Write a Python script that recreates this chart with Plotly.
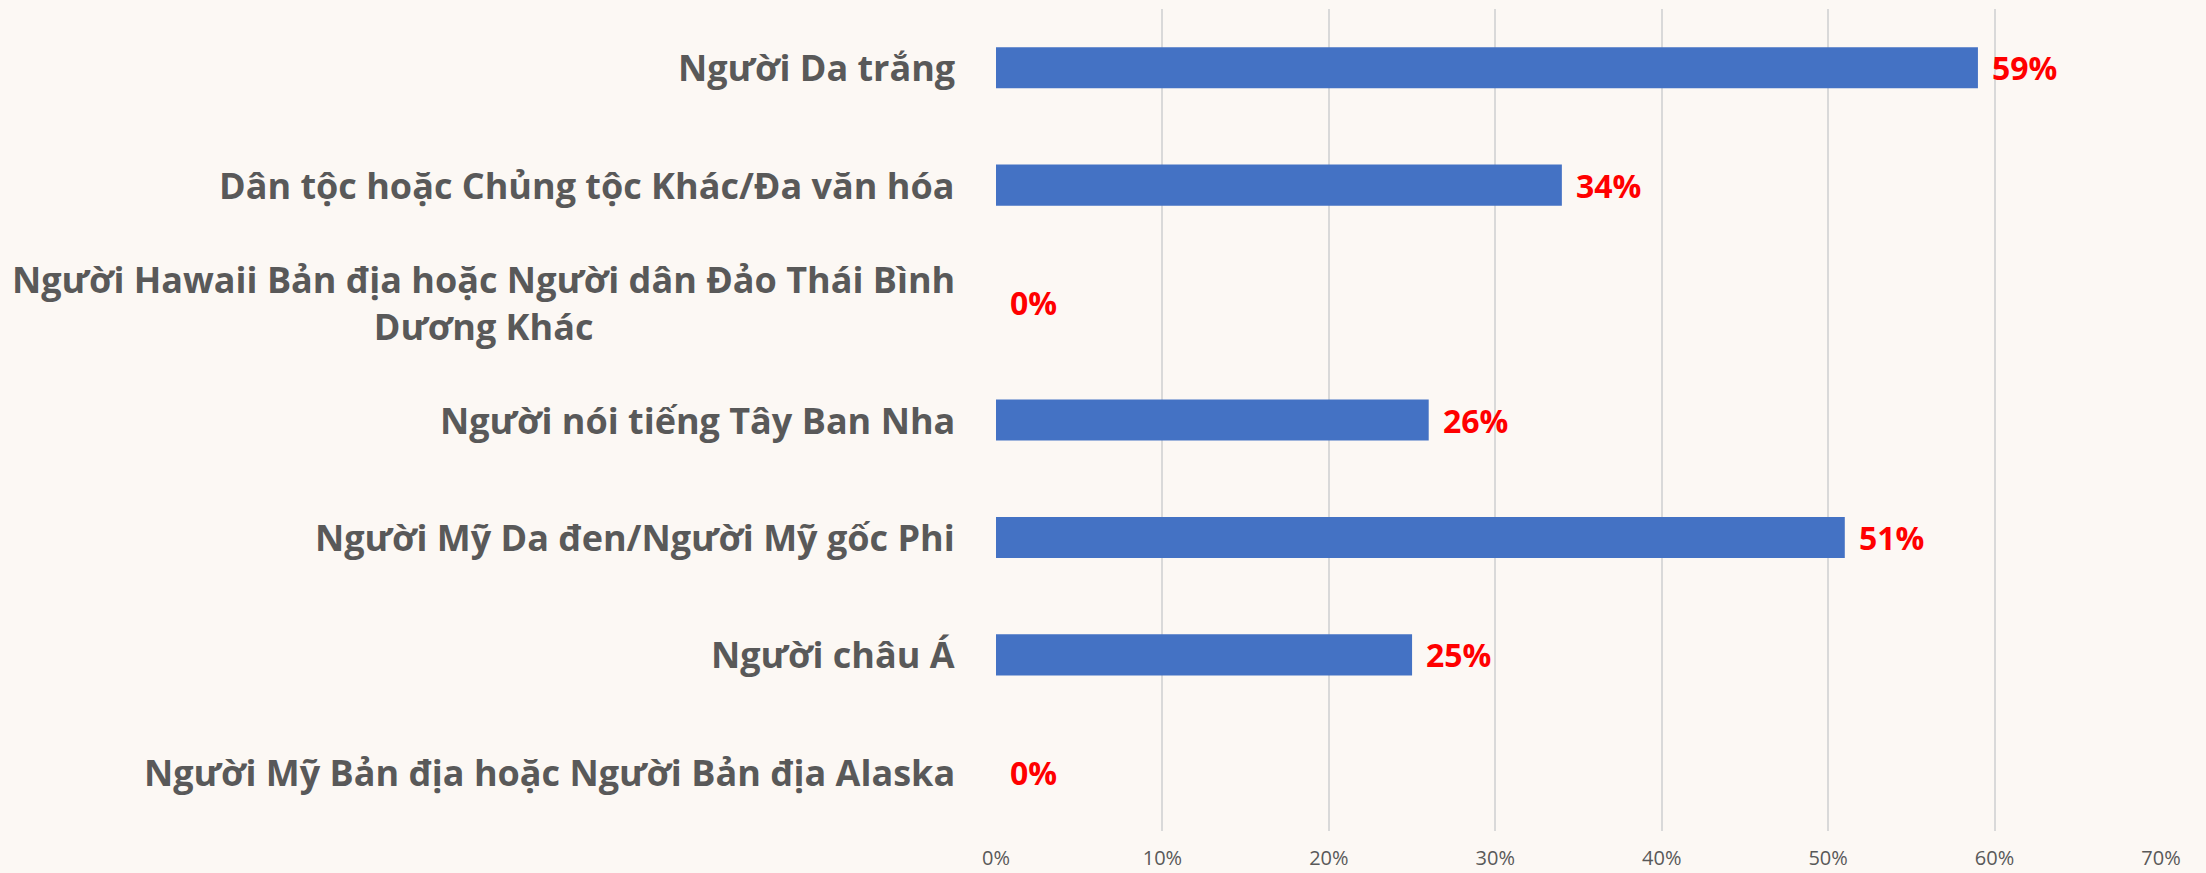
import plotly.graph_objects as go

categories = [
    'Người Da trắng',
    'Dân tộc hoặc Chủng tộc Khác/Đa văn hóa',
    'Người Hawaii Bản địa hoặc Người dân Đảo Thái Bình<br>Dương Khác',
    'Người nói tiếng Tây Ban Nha',
    'Người Mỹ Da đen/Người Mỹ gốc Phi',
    'Người châu Á',
    'Người Mỹ Bản địa hoặc Người Bản địa Alaska',
]
values = [0.59, 0.34, 0.0, 0.26, 0.51, 0.25, 0.0]
value_labels = ['59%', '34%', '0%', '26%', '51%', '25%', '0%']
x_ticks = [0, 0.1, 0.2, 0.3, 0.4, 0.5, 0.6, 0.7]
x_tick_labels = ['0%', '10%', '20%', '30%', '40%', '50%', '60%', '70%']

font_family = 'Open Sans, sans-serif'
bg = '#FCF8F4'
ids = list(range(len(categories)))

fig = go.Figure()
fig.add_trace(go.Bar(
    x=values,
    y=ids,
    orientation='h',
    marker=dict(color='#4472C4', line=dict(width=0)),
    hoverinfo='skip',
))

annotations = []
for i, cat in enumerate(categories):
    # category names drawn as annotations so the wrapped one stays centred
    annotations.append(dict(
        x=0, xref='paper', y=i, yref='y',
        text=cat, showarrow=False,
        xanchor='right', yanchor='middle', align='center',
        xshift=-39,
        font=dict(family=font_family, size=36, color='#595959', weight='bold'),
    ))
    annotations.append(dict(
        x=values[i], xref='x', y=i, yref='y',
        text=value_labels[i], showarrow=False,
        xanchor='left', yanchor='middle',
        xshift=12,
        font=dict(family=font_family, size=32, color='#FF0000', weight='bold'),
    ))

fig.update_layout(
    width=2206,
    height=873,
    margin=dict(l=996, r=45, t=9, b=42),
    paper_bgcolor=bg,
    plot_bgcolor=bg,
    bargap=0.65,
    showlegend=False,
    annotations=annotations,
)
fig.update_xaxes(
    range=[0, 0.7],
    tickvals=x_ticks,
    ticktext=x_tick_labels,
    showgrid=True,
    gridcolor='#D9D9D9',
    gridwidth=2,
    zeroline=False,
    automargin=False,
    tickfont=dict(family=font_family, size=20, color='#595959'),
    ticklabelstandoff=13,
)
fig.update_yaxes(
    range=[6.5, -0.5],
    showticklabels=False,
    showgrid=False,
    zeroline=False,
    automargin=False,
)

fig.write_html(
    'out.html',
    config={'displayModeBar': False},
    post_script="document.body.style.margin='0';document.body.style.background='%s';" % bg,
)
